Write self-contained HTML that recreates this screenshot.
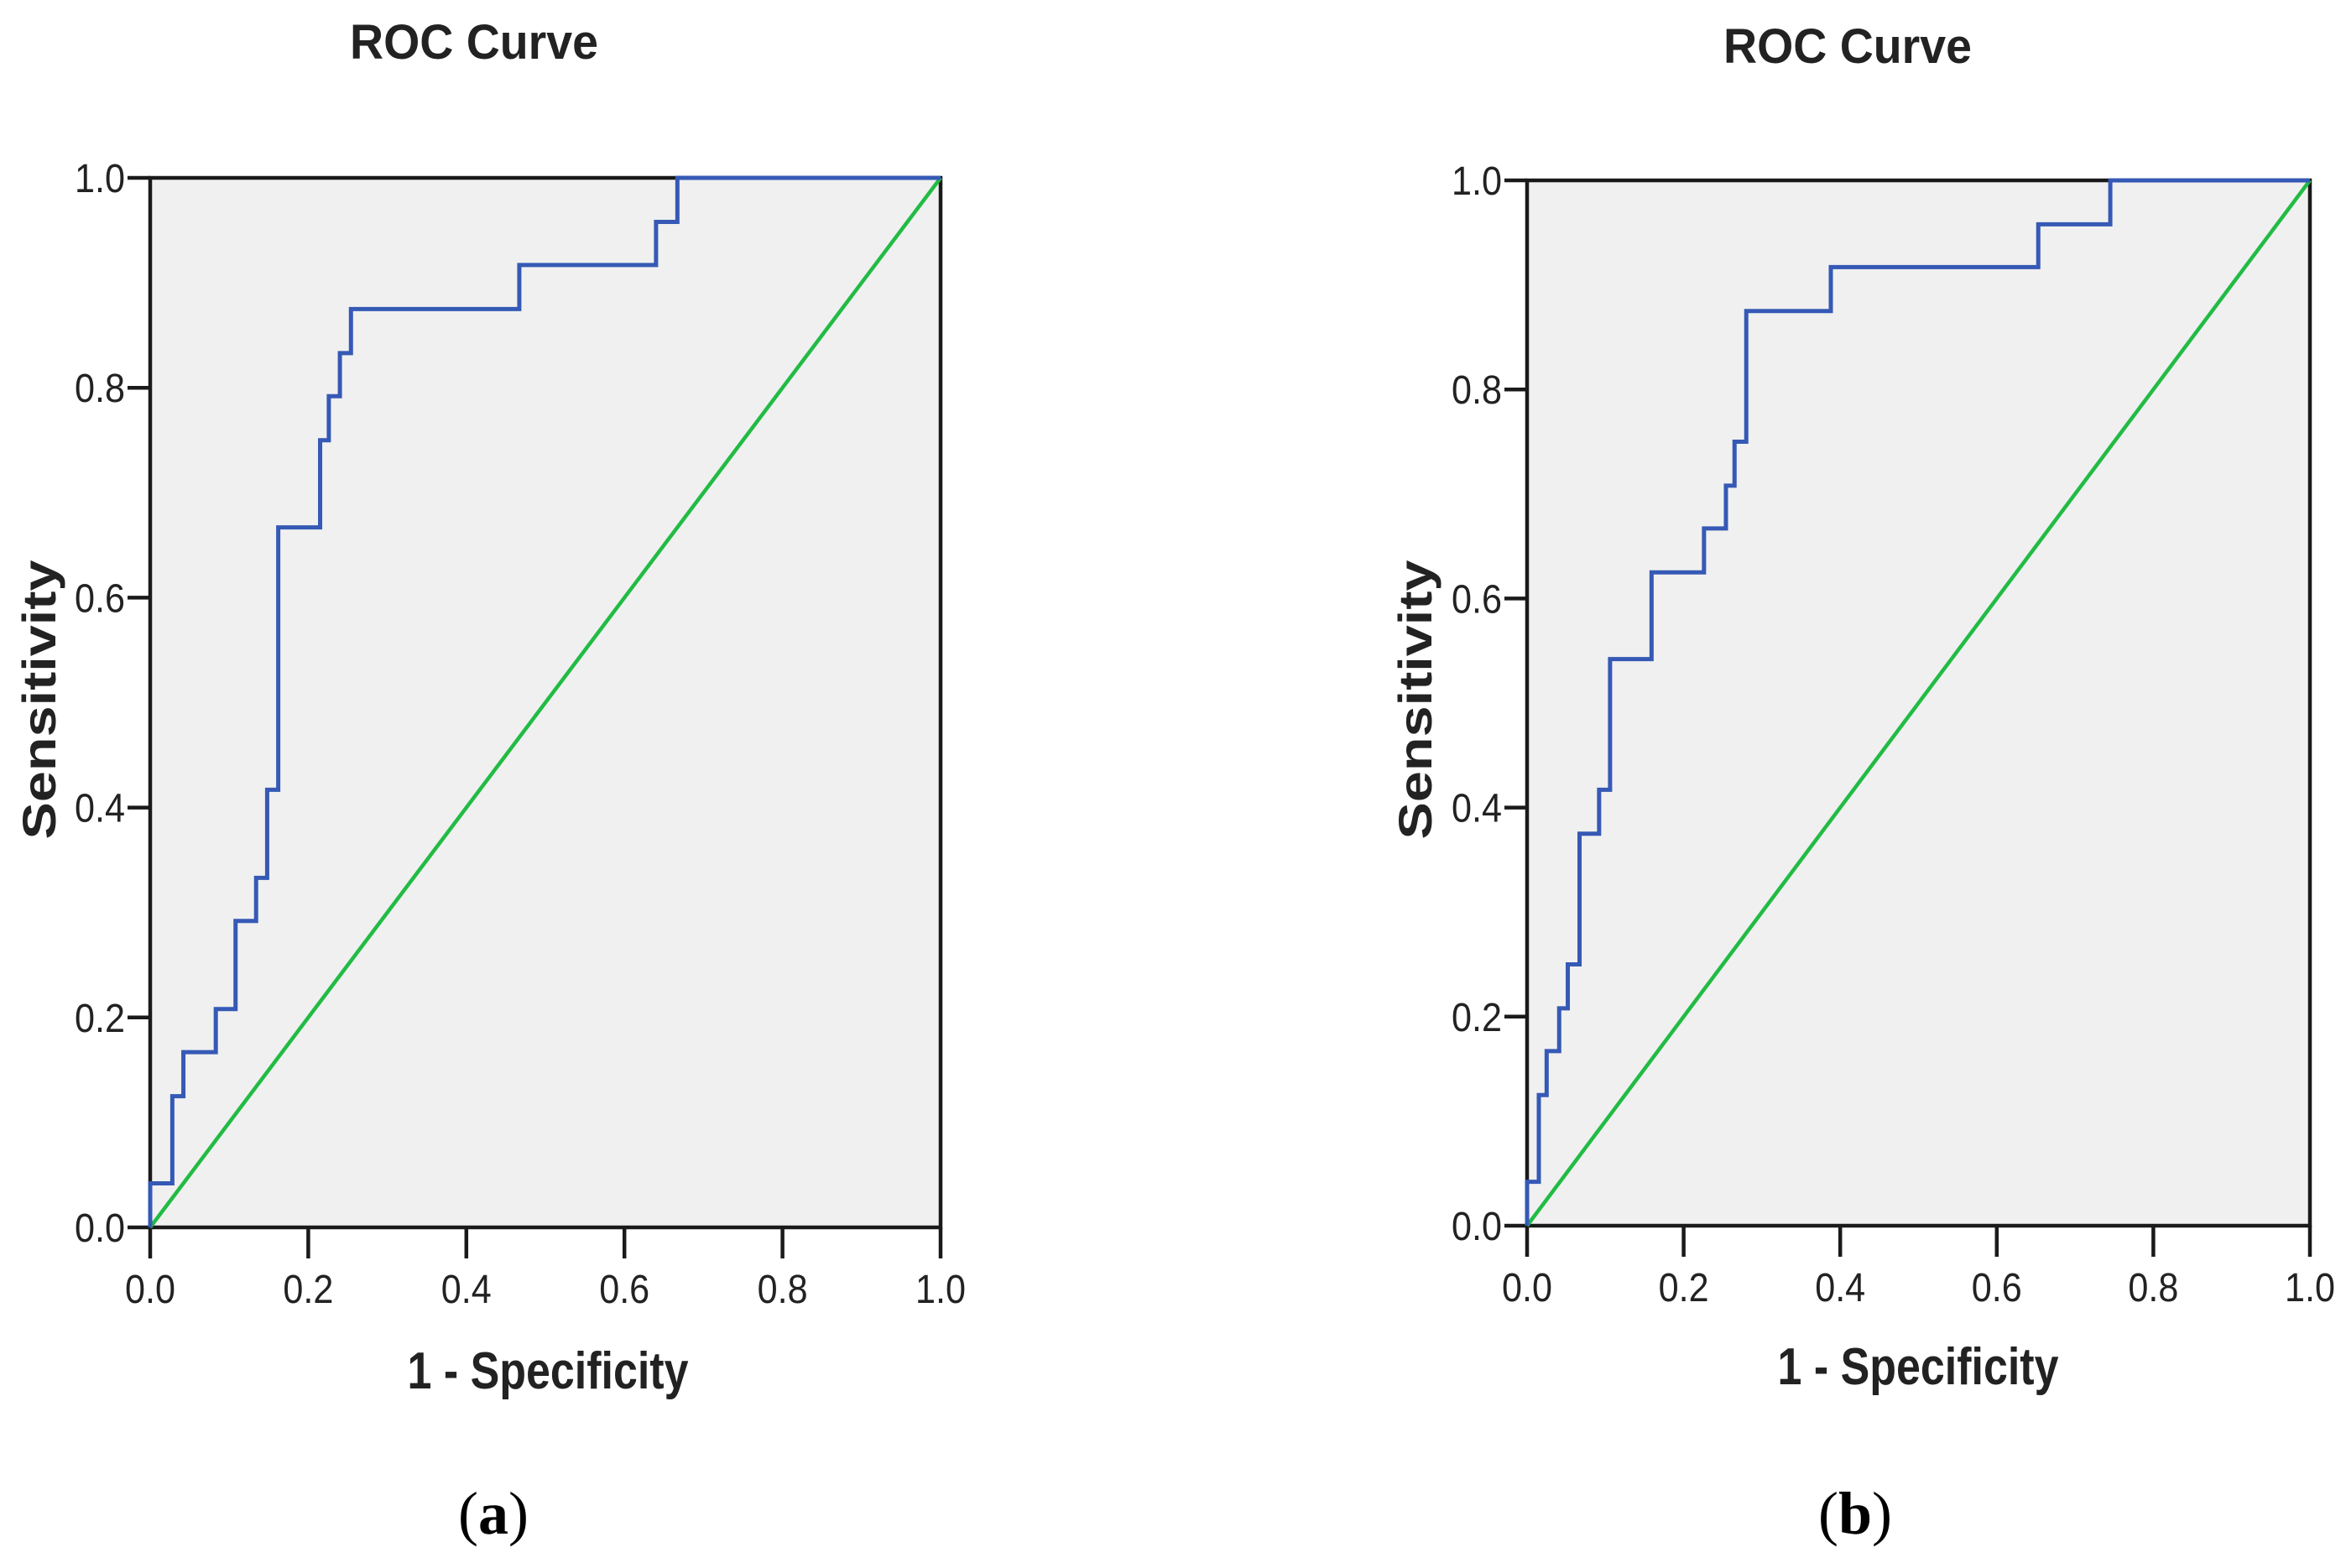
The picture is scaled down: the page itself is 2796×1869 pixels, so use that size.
<!DOCTYPE html>
<html><head><meta charset="utf-8"><style>
html,body{margin:0;padding:0;background:#fff}
svg{display:block}
</style></head><body>
<svg id="fig" width="2796" height="1869" xmlns="http://www.w3.org/2000/svg">
<g id="pa"></g>
<g id="pb"></g>
</svg>
<script>
const ticks = [0, 0.2, 0.4, 0.6, 0.8, 1.0];
const tickLabels = ["0.0", "0.2", "0.4", "0.6", "0.8", "1.0"];
// Panel (a) ROC steps: at stepX[i] curve rises to stepY[i]
const stepXA = [0, 0.028, 0.042, 0.083, 0.108, 0.134, 0.148, 0.162, 0.215, 0.226, 0.240, 0.254, 0.467, 0.640, 0.667];
const stepYA = [0.042, 0.125, 0.167, 0.208, 0.292, 0.333, 0.417, 0.667, 0.750, 0.792, 0.833, 0.875, 0.917, 0.958, 1.0];
// Panel (b)
const stepXB = [0, 0.015, 0.025, 0.041, 0.052, 0.067, 0.092, 0.106, 0.159, 0.226, 0.254, 0.265, 0.280, 0.388, 0.653, 0.745];
const stepYB = [0.042, 0.125, 0.167, 0.208, 0.250, 0.375, 0.417, 0.542, 0.625, 0.667, 0.708, 0.750, 0.875, 0.917, 0.958, 1.0];

const NS = "http://www.w3.org/2000/svg";
function mk(parent, tag, attrs, text){
  const e = document.createElementNS(NS, tag);
  for (const k in attrs) e.setAttribute(k, attrs[k]);
  if (text !== undefined) e.textContent = text;
  parent.appendChild(e);
  return e;
}
function drawPanel(g, L, R, T, B, sx, sy, cfg){
  const x = v => L + v*(R-L);
  const y = v => B - v*(B-T);
  let e;
  e = mk(g, "rect", {x:L, y:T, width:R-L, height:B-T, fill:"#f0f0f0", stroke:"#1a1a1a", "stroke-width":4.5});
  
  
  ticks.forEach((t,i)=>{
    e = mk(g, "line", {x1:L-27, x2:L, y1:y(t), y2:y(t), stroke:"#1a1a1a", "stroke-width":4.5});
    
    
    e = mk(g, "text", {x:L-30, y:y(t)+17, "text-anchor":"end", "font-family":"Liberation Sans, sans-serif", "font-size":48, fill:"#222", textLength:60, lengthAdjust:"spacingAndGlyphs"}, tickLabels[i]);
    
    
    e = mk(g, "line", {x1:x(t), x2:x(t), y1:B, y2:B+37, stroke:"#1a1a1a", "stroke-width":4.5});
    
    
    e = mk(g, "text", {x:x(t), y:B+90, "text-anchor":"middle", "font-family":"Liberation Sans, sans-serif", "font-size":48, fill:"#222", textLength:60, lengthAdjust:"spacingAndGlyphs"}, tickLabels[i]);
    
    
  });
  e = mk(g, "line", {x1:x(0), y1:y(0), x2:x(1), y2:y(1), stroke:"#22bb44", "stroke-width":4.5});
  
  
  let d = "M" + x(sx[0]) + "," + y(0);
  for (let i=0;i<sx.length;i++){
    d += " V" + y(sy[i]);
    const nx = i+1 < sx.length ? sx[i+1] : 1;
    d += " H" + x(nx);
  }
  e = mk(g, "path", {d:d, fill:"none", stroke:"#3559b5", "stroke-width":5});
  
  
  e = mk(g, "text", {x:cfg.tx, y:cfg.ty, "text-anchor":"middle", "font-family":"Liberation Sans, sans-serif", "font-size":58, "font-weight":"bold", fill:"#222", textLength:296, lengthAdjust:"spacingAndGlyphs"}, "ROC Curve");
  
  
  e = mk(g, "text", {x:cfg.xx, y:cfg.xy, "text-anchor":"middle", "font-family":"Liberation Sans, sans-serif", "font-size":62, "font-weight":"bold", fill:"#222", textLength:335, lengthAdjust:"spacingAndGlyphs"}, "1 - Specificity");
  
  
  e = mk(g, "text", {x:0, y:0, transform:"translate("+cfg.yx+","+cfg.yy+") rotate(-90)", "text-anchor":"middle", "font-family":"Liberation Sans, sans-serif", "font-size":56, "font-weight":"bold", fill:"#222", textLength:333, lengthAdjust:"spacingAndGlyphs"}, "Sensitivity");
  
  
  e = mk(g, "text", {x:cfg.px, y:1828, "text-anchor":"middle", "font-family":"Liberation Serif, serif", "font-size":72, fill:"#000"}, "");
  
  
  mk(e, "tspan", {}, "(");
  mk(e, "tspan", {"font-weight":"bold"}, cfg.letter);
  mk(e, "tspan", {}, ")");
}
drawPanel(document.getElementById("pa"), 179, 1121, 212, 1463, stepXA, stepYA,
  {tx:565, ty:70, xx:653, xy:1655, yx:66, yy:834, px:588, letter:"a"});
drawPanel(document.getElementById("pb"), 1820, 2753, 215, 1461, stepXB, stepYB,
  {tx:2202, ty:75, xx:2286, xy:1650, yx:1706, yy:834, px:2211, letter:"b"});
</script>
</body></html>
